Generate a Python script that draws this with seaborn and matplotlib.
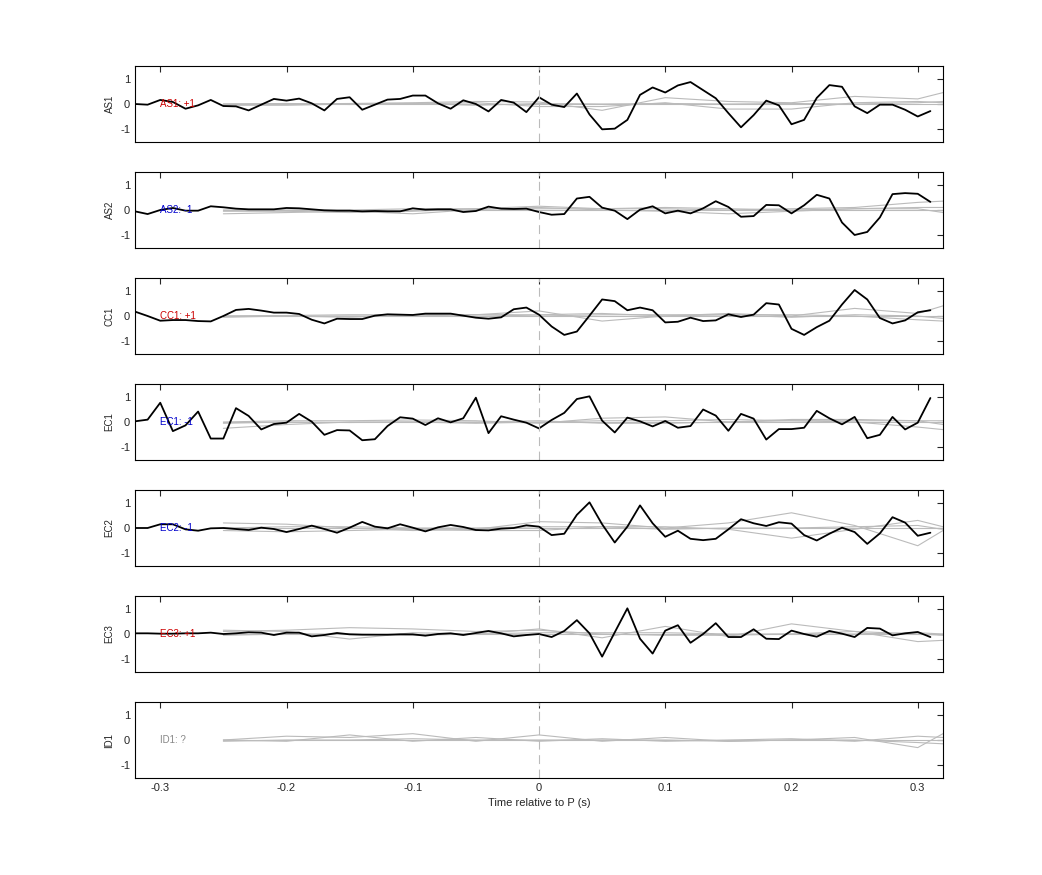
import numpy as np
import matplotlib
matplotlib.use("Agg")
import matplotlib.pyplot as plt
import seaborn as sns

# Dados
t = np.round(np.arange(-0.32, 0.315, 0.01), 2)   # 64 amostras
gray_t = [-0.25, -0.20, -0.15, -0.10, -0.05, 0.0, 0.05, 0.10, 0.15, 0.20, 0.25, 0.30, 0.32]

channels = ["AS1", "AS2", "CC1", "EC1", "EC2", "EC3", "ID1"]
labels = ["AS1: +1", "AS2: -1", "CC1: +1", "EC1: -1", "EC2: -1", "EC3: +1", "ID1: ?"]
label_colors = ["#cc0000", "#0000cc", "#cc0000", "#0000cc", "#0000cc", "#cc0000", "#888888"]

# pixel readings (zoomed, 75 px per unit) -> values
px_as1 = [114, 116, 102, 108, 128, 118, 102, 120, 121, 133, 116, 99, 104, 98, 112, 133, 99, 94, 131, 116, 101, 99, 89, 89,
          112, 128, 103, 114, 136, 102, 110, 138, 94,
          116, 123, 83, 145, 189, 187, 161, 87, 65, 80, 59, 49, 73, 97, 141, 183, 147, 104, 118, 174, 161, 96, 58, 63, 121,
          141, 116, 116, 131, 151, 135]
px_as2 = [118, 126, 114, 108, 116, 116, 103, 106, 110, 112, 112, 112, 108, 109, 112, 115, 116, 116, 118, 117, 118, 118,
          109, 113, 112, 112, 120, 117, 104, 110, 111, 110, 120,
          128, 126, 80, 75, 107, 116, 141, 113, 103, 124, 116, 124, 109, 88, 105, 134, 132, 99, 100, 124, 100, 69, 80, 151,
          188, 179, 136, 67, 64, 66, 90]
px_cc1 = [101, 114, 128, 126, 126, 129, 130, 114, 96, 93, 98, 104, 104, 108, 125, 136, 122, 123, 123, 113, 109, 110, 111,
          107, 107, 107, 113, 119, 122, 118, 94, 89, 110,
          145, 170, 160, 113, 65, 70, 97, 89, 97, 133, 131, 119, 129, 127, 109, 117, 110, 76, 80, 152, 170, 147, 128, 80, 37,
          65, 120, 136, 127, 103, 97]
px_ec1 = [112, 107, 57, 141, 124, 83, 163, 163, 73, 96, 136, 120, 116, 90, 113, 152, 138, 139, 168, 165, 126, 100, 104,
          123, 103, 115, 103, 42, 147, 97, 107, 116, 133,
          108, 87, 46, 38, 110, 145, 101, 112, 127, 111, 131, 126, 77, 95, 140, 90, 104, 166, 135, 135, 131, 81, 103, 121,
          99, 162, 152, 99, 136, 116, 43]
px_ec2 = [114, 114, 103, 103, 118, 122, 115, 114, 117, 120, 113, 117, 126, 117, 107, 117, 128, 113, 96, 110, 115, 103, 113,
          124, 112, 105, 111, 120, 121, 116, 114, 106, 110,
          135, 131, 75, 38, 103, 157, 110, 47, 100, 140, 122, 146, 150, 146, 118, 88, 100, 108, 97, 101, 135, 151, 131, 113,
          126, 161, 130, 82, 98, 137, 128]
px_ec3 = [110, 110, 111, 111, 110, 110, 108, 112, 110, 107, 108, 115, 108, 108, 119, 115, 109, 113, 114, 114, 114, 113, 113,
          117, 112, 110, 115, 109, 103, 110, 119, 115, 112,
          121, 103, 71, 110, 179, 107, 36, 126, 170, 102, 86, 138, 112, 80, 121, 121, 98, 126, 127, 102, 112, 120, 103, 111,
          121, 94, 96, 116, 110, 106, 121]

black = [
    [(114 - p) / 75 for p in px_as1],
    [(114 - p) / 75 for p in px_as2],
    [(114 - p) / 75 for p in px_cc1],
    [(114 - p) / 75 for p in px_ec1],
    [(114 - p) / 75 for p in px_ec2],
    [(112 - p) / 75 for p in px_ec3],
    None,
]

gray = [
    [[0.0, 0.0, 0.02, 0.05, 0.1, 0.08, -0.25, 0.25, 0.1, 0.05, 0.3, 0.2, 0.45],
     [0.0, 0.02, -0.02, 0.0, 0.05, -0.1, -0.1, 0.05, -0.2, -0.2, 0.05, 0.1, 0.05],
     [-0.05, -0.05, 0.0, 0.02, -0.05, 0.02, 0.0, 0.02, 0.0, 0.02, 0.0, 0.05, 0.1],
     [0.0, 0.0, 0.0, 0.0, 0.0, 0.0, 0.0, 0.0, 0.0, 0.0, 0.0, 0.0, 0.0]],
    [[-0.05, -0.05, -0.1, -0.05, 0.05, 0.15, 0.05, 0.05, 0.0, 0.05, 0.1, 0.3, 0.35],
     [-0.15, -0.1, -0.05, -0.15, 0.02, 0.1, 0.0, -0.05, -0.15, -0.05, 0.05, 0.05, -0.1],
     [0.0, 0.0, 0.0, 0.05, 0.05, 0.05, 0.05, 0.1, 0.05, 0.0, 0.05, 0.1, 0.1],
     [0.0, 0.0, 0.0, 0.0, 0.0, 0.0, 0.0, 0.0, 0.0, 0.0, 0.0, 0.0, 0.0]],
    [[0.0, 0.02, 0.05, 0.05, 0.05, 0.2, -0.2, 0.0, 0.1, 0.0, 0.3, 0.1, 0.4],
     [0.0, 0.0, -0.05, 0.05, 0.05, 0.05, 0.1, 0.0, 0.05, 0.05, 0.0, -0.15, -0.2],
     [-0.05, 0.0, 0.0, 0.0, 0.05, 0.0, 0.05, 0.05, 0.05, -0.05, 0.05, 0.0, -0.1],
     [0.0, 0.0, 0.0, 0.0, 0.0, 0.0, 0.0, 0.0, 0.0, 0.0, 0.0, 0.0, 0.0]],
    [[0.0, 0.05, 0.05, 0.08, 0.05, -0.05, 0.15, 0.2, 0.0, 0.1, 0.1, 0.05, -0.1],
     [-0.25, -0.1, 0.0, 0.0, -0.05, 0.0, 0.05, 0.05, 0.1, 0.05, 0.0, -0.2, -0.3],
     [-0.05, 0.0, -0.02, 0.0, 0.0, 0.05, -0.05, -0.05, 0.0, 0.05, 0.05, 0.05, 0.05],
     [0.0, 0.0, 0.0, 0.0, 0.0, 0.0, 0.0, 0.0, 0.0, 0.0, 0.0, 0.0, 0.0]],
    [[0.2, 0.15, 0.0, -0.1, -0.05, 0.25, 0.2, 0.0, 0.2, 0.6, 0.1, -0.7, -0.1],
     [-0.1, -0.15, -0.1, -0.05, -0.1, -0.1, 0.05, 0.05, -0.05, -0.4, -0.05, 0.3, 0.05],
     [0.0, 0.05, 0.05, 0.0, 0.0, 0.05, 0.05, -0.05, 0.0, 0.0, 0.05, 0.1, -0.05],
     [0.0, 0.0, 0.0, 0.0, 0.0, 0.0, 0.0, 0.0, 0.0, 0.0, 0.0, 0.0, 0.0]],
    [[0.15, 0.1, -0.2, 0.05, 0.0, 0.2, -0.15, 0.3, -0.1, 0.4, 0.1, 0.0, -0.05],
     [0.1, 0.15, 0.25, 0.2, 0.1, 0.15, 0.0, -0.05, -0.05, 0.0, 0.1, -0.3, -0.25],
     [-0.05, 0.0, 0.0, -0.05, 0.0, 0.05, 0.05, 0.05, 0.0, 0.0, 0.0, 0.05, 0.0],
     [0.0, 0.0, 0.0, 0.0, 0.0, 0.0, 0.0, 0.0, 0.0, 0.0, 0.0, 0.0, 0.0]],
    [[0.0, 0.15, 0.1, 0.25, -0.05, 0.2, -0.05, 0.1, -0.05, 0.0, 0.1, -0.3, 0.25],
     [0.0, -0.05, 0.2, -0.05, 0.1, -0.05, 0.05, -0.05, 0.0, 0.05, -0.05, 0.15, 0.1],
     [-0.05, 0.0, 0.0, 0.05, 0.0, 0.0, 0.0, 0.0, -0.05, 0.0, 0.0, -0.1, -0.15],
     [0.0, 0.0, 0.0, 0.0, 0.0, 0.0, 0.0, 0.0, 0.0, 0.0, 0.0, 0.0, 0.0]],
]

sns.set_style("white")
plt.rcParams["font.family"] = ["Liberation Sans", "DejaVu Sans"]
plt.rcParams["axes.unicode_minus"] = False
fig = plt.figure(figsize=(10.42, 8.75), dpi=100)

left, width = 135 / 1042, 808 / 1042
h, pitch = 76 / 875, 106 / 875
for i, ch in enumerate(channels):
    ax = fig.add_axes([left, 1 - 66 / 875 - h - i * pitch, width, h])
    for g in gray[i]:
        sns.lineplot(x=gray_t, y=g, ax=ax, color="#bbbbbb", lw=0.8)
    if black[i] is not None:
        sns.lineplot(x=t, y=black[i], ax=ax, color="black", lw=1.3)
    ax.axvline(0, color="#bbbbbb", lw=0.8, ls=(0, (8, 5)))
    ax.text(-0.3, 0, labels[i], color=label_colors[i], fontsize=7, va="center", ha="left")
    ax.set_xlim(-0.32, 0.32)
    ax.set_ylim(-1.5, 1.5)
    ax.set_yticks([-1, 0, 1])
    ax.set_xticks([-0.3, -0.2, -0.1, 0, 0.1, 0.2, 0.3])
    ax.set_ylabel(ch, fontsize=7)
    ax.tick_params(direction="in", top=True, right=True, labelsize=8, length=4)
    if i < len(channels) - 1:
        ax.set_xticklabels([])
    else:
        ax.set_xticklabels(["-0.3", "-0.2", "-0.1", "0", "0.1", "0.2", "0.3"])
        ax.set_xlabel("Time relative to P (s)", fontsize=8)
    for s in ax.spines.values():
        s.set_color("black")
        s.set_linewidth(0.8)

fig.savefig("out.png", dpi=100)
